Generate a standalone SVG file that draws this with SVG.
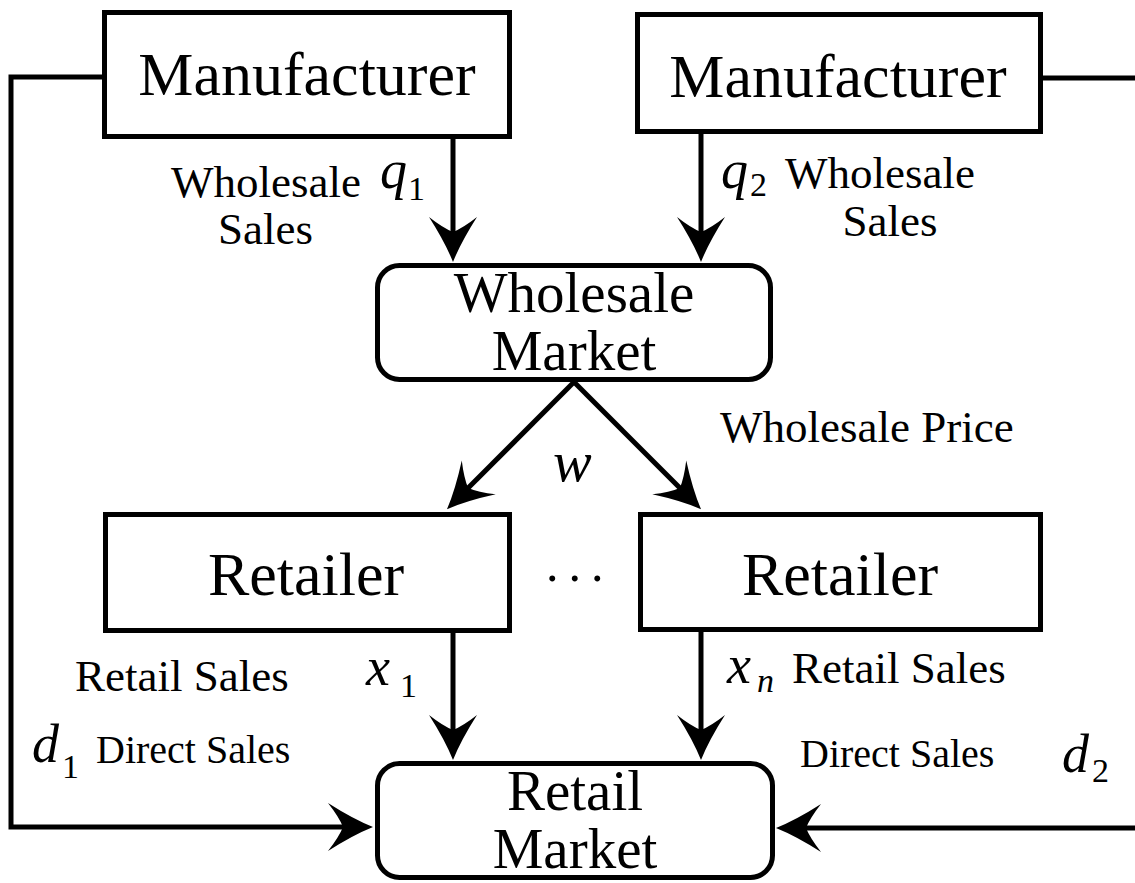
<svg xmlns="http://www.w3.org/2000/svg" width="1135" height="883" viewBox="0 0 1135 883" font-family="'Liberation Serif', serif">
<style>
text{font-family:'Liberation Serif',serif;fill:#000}
.box{fill:#fff;stroke:#000;stroke-width:5}
.line{fill:none;stroke:#000;stroke-width:5}
.big{font-size:62px;text-anchor:middle}
.mkt{font-size:57px;text-anchor:middle}
.lbl{font-size:45px}
.sm{font-size:40px}
.math{font-style:italic;font-size:54px}
.sub{font-size:34px}
.subi{font-style:italic;font-size:34px}
</style>
<defs>
<marker id="arr" markerUnits="userSpaceOnUse" viewBox="-30 -25 55 50" markerWidth="55" markerHeight="50" refX="0" refY="0" orient="auto" overflow="visible">
<path d="M20,0 Q0,-8 -25,-24 Q-14,-10 -10,0 Q-14,10 -25,24 Q0,8 20,0 Z" fill="#000"/>
</marker>
</defs>

<g id="connectors">
<path class="line" d="M453,139 V242" marker-end="url(#arr)"/>
<path class="line" d="M701,134 V242" marker-end="url(#arr)"/>
<path class="line" d="M574,382 L461.1,495.1" marker-end="url(#arr)"/>
<path class="line" d="M574,382 L686.9,495.1" marker-end="url(#arr)"/>
<path class="line" d="M453,633 V740" marker-end="url(#arr)"/>
<path class="line" d="M701,632 V740" marker-end="url(#arr)"/>
<path class="line" d="M102,77 H11 V827 H353" marker-end="url(#arr)"/>
<path class="line" d="M1043,78 H1135"/>
<path class="line" d="M1135,828 H796" marker-end="url(#arr)"/>
</g>

<g id="manufacturer1">
<rect class="box" x="104.5" y="12.5" width="405" height="124"/>
<text class="big" x="307" y="95">Manufacturer</text>
</g>
<g id="manufacturer2">
<rect class="box" x="637.5" y="14.5" width="403" height="117"/>
<text class="big" x="838" y="97">Manufacturer</text>
</g>
<g id="wholesale-market">
<rect class="box" x="377.5" y="265.5" width="393" height="114" rx="22" ry="22"/>
<text class="mkt" x="574" y="312">Wholesale<tspan x="574" dy="58">Market</tspan></text>
</g>
<g id="retailer1">
<rect class="box" x="105.5" y="514.5" width="404" height="116"/>
<text class="big" x="306" y="595">Retailer</text>
</g>
<g id="retailer2">
<rect class="box" x="640.5" y="514.5" width="400" height="115"/>
<text class="big" x="840" y="595">Retailer</text>
</g>
<g id="ellipsis">
<text x="546" y="581" style="font-size:50px;letter-spacing:10px">...</text>
</g>
<g id="retail-market">
<rect class="box" x="377.5" y="763.5" width="395" height="114" rx="22" ry="22"/>
<text class="mkt" x="575" y="810">Retail<tspan x="575" dy="58">Market</tspan></text>
</g>

<g id="labels">
<text class="lbl" x="171" y="197">Wholesale</text>
<text class="lbl" x="218" y="244">Sales</text>
<text class="math" x="380" y="188">q</text>
<text class="sub" x="408" y="200">1</text>

<text class="math" x="721" y="188">q</text>
<text class="sub" x="750" y="196">2</text>
<text class="lbl" x="880" y="188" text-anchor="middle">Wholesale</text>
<text class="lbl" x="890" y="236" text-anchor="middle">Sales</text>

<text class="lbl" x="720" y="442">Wholesale Price</text>
<text class="math" x="553" y="481" style="font-size:58px">w</text>

<text class="lbl" x="75" y="691">Retail Sales</text>
<text class="math" x="366" y="685">x</text>
<text class="sub" x="400" y="697">1</text>

<text class="math" x="727" y="683">x</text>
<text class="subi" x="757" y="692">n</text>
<text class="lbl" x="792" y="683">Retail Sales</text>

<text class="math" x="32" y="762">d</text>
<text class="sub" x="62" y="778">1</text>
<text class="sm" x="96" y="763">Direct Sales</text>

<text class="sm" x="800" y="767">Direct Sales</text>
<text class="math" x="1062" y="772">d</text>
<text class="sub" x="1092" y="782">2</text>
</g>
</svg>
